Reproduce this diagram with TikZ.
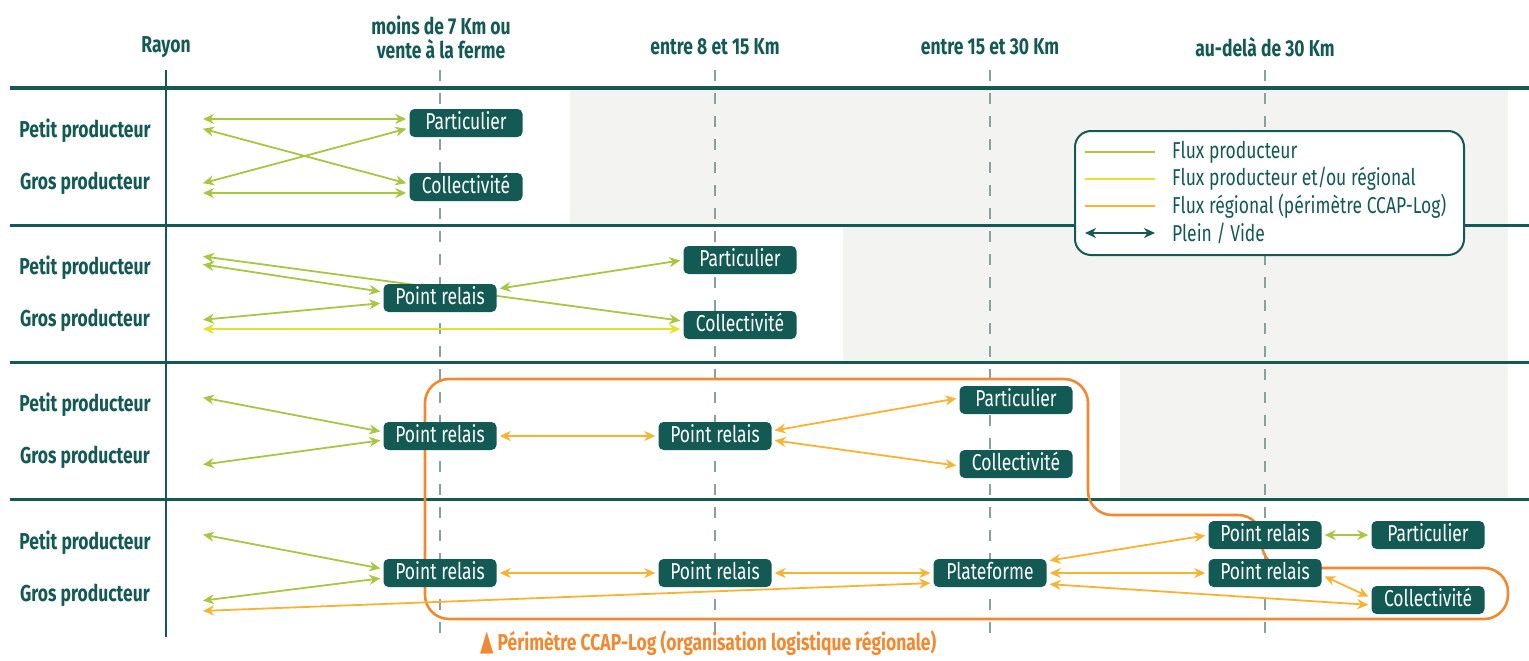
\documentclass[tikz,border=0pt]{standalone}
\usepackage{fontspec}
\setmainfont{Fira Sans}[FakeStretch=0.76]
\newfontfamily\symfont{DejaVu Sans}[FakeStretch=0.6]
\usetikzlibrary{arrows.meta}
\usetikzlibrary{calc}
\usetikzlibrary{positioning}
\definecolor{vertfonce}{RGB}{19,89,84}
\definecolor{vertflux}{RGB}{168,198,66}
\definecolor{jauneflux}{RGB}{228,226,45}
\definecolor{orangeflux}{RGB}{250,178,50}
\definecolor{orangeperim}{RGB}{242,137,48}
\definecolor{fondgris}{RGB}{243,243,241}
\definecolor{tiretgris}{RGB}{138,160,158}
\pgfdeclarelayer{fond}
\pgfdeclarelayer{liens}
\pgfsetlayers{fond,liens,main}
\tikzset{
  flux/.style={<->,>={Stealth[length=11pt,width=10pt,inset=3.5pt]},line width=1.8pt,shorten >=3pt,shorten <=3pt},
  fluxprod/.style={flux,color=vertflux},
  fluxmixte/.style={flux,color=jauneflux},
  fluxreg/.style={flux,color=orangeflux},
  lieu/.style={fill=vertfonce,text=white,rounded corners=5pt,minimum width=113pt,minimum height=28pt,
    inner xsep=4pt,inner ysep=0pt,text height=16pt,text depth=4pt,font=\fontsize{23}{26}\selectfont},
  entete/.style={text=vertfonce,align=center,font=\fontsize{23}{24}\selectfont\bfseries},
  producteur/.style={text=vertfonce,font=\fontsize{23}{26}\selectfont\bfseries},
  legtexte/.style={text=vertfonce,anchor=west,inner sep=0pt,font=\fontsize{23}{26}\selectfont},
  separation/.style={vertfonce,line width=3pt},
  rayontiret/.style={tiretgris,line width=1.5pt,dash pattern=on 11pt off 12pt},
  perimetre/.style={orangeperim,line width=2.6pt,rounded corners=24pt}
}
\begin{document}
\begin{tikzpicture}[x=1pt,y=-1pt]
    \useasboundingbox (0,0) rectangle (1529,661);
    \begin{pgfonlayer}{fond}
    % fonds gris
    \fill[fondgris] (570,88) rectangle (1508,225);
    \fill[fondgris] (843,225) rectangle (1508,362);
    \fill[fondgris] (1120,362) rectangle (1508,499);
    % grille
    \draw[separation] (10,88) -- (1529,88);
    \draw[separation] (10,225) -- (1529,225);
    \draw[separation] (10,362) -- (1529,362);
    \draw[separation] (10,499) -- (1529,499);
    \draw[vertfonce,line width=2.8pt] (166,70) -- (166,637);
    \draw[rayontiret] (440,70) -- (440,640);
    \draw[rayontiret] (715,70) -- (715,640);
    \draw[rayontiret] (990,70) -- (990,640);
    \draw[rayontiret] (1265,70) -- (1265,640);
    % perimetre CCAP-Log
    \draw[perimetre] (425,500) -- (425,379) -- (1088,379) -- (1088,515) -- (1262,515) -- (1262,568)
        -- (1508,568) -- (1508,619) -- (425,619) -- cycle;
    \end{pgfonlayer}
    % en-tetes
    \node[entete] (rayon) at (166,47) {Rayon};
    \node[entete] (r7) at (441,37) {moins de 7 Km ou\\vente à la ferme};
    \node[entete] (r15) at (715,47) {entre 8 et 15 Km};
    \node[entete] (r30) at (990,47) {entre 15 et 30 Km};
    \node[entete] (r30plus) at (1265,47) {au-delà de 30 Km};
    % producteurs
    \node[producteur] (petit1) at (85,131) {Petit producteur};
    \node[producteur] (gros1) at (85,183) {Gros producteur};
    \node[producteur] (petit2) at (85,268) {Petit producteur};
    \node[producteur] (gros2) at (85,320) {Gros producteur};
    \node[producteur] (petit3) at (85,405) {Petit producteur};
    \node[producteur] (gros3) at (85,457) {Gros producteur};
    \node[producteur] (petit4) at (85,543) {Petit producteur};
    \node[producteur] (gros4) at (85,595) {Gros producteur};
    % lieux
    \node[lieu] (part1) at (466,123) {Particulier};
    \node[lieu] (coll1) at (466,187) {Collectivité};
    \node[lieu] (relais2) at (440,298) {Point relais};
    \node[lieu] (part2) at (740,260) {Particulier};
    \node[lieu] (coll2) at (740,325) {Collectivité};
    \node[lieu] (relais3a) at (440,436) {Point relais};
    \node[lieu] (relais3b) at (715,436) {Point relais};
    \node[lieu] (part3) at (1016,400) {Particulier};
    \node[lieu] (coll3) at (1016,464) {Collectivité};
    \node[lieu] (relais4a) at (440,573) {Point relais};
    \node[lieu] (relais4b) at (715,573) {Point relais};
    \node[lieu] (plat4) at (990,573) {Plateforme};
    \node[lieu] (relais4c) at (1265,535) {Point relais};
    \node[lieu] (relais4d) at (1265,573) {Point relais};
    \node[lieu] (part4) at (1428,535) {Particulier};
    \node[lieu] (coll4) at (1428,600) {Collectivité};
    % extremites cote producteurs
    \coordinate (p1a) at (200,119);
    \coordinate (p1b) at (200,128);
    \coordinate (g1a) at (200,184);
    \coordinate (g1b) at (200,193);
    \coordinate (p2a) at (200,256);
    \coordinate (p2b) at (200,264);
    \coordinate (g2a) at (200,320);
    \coordinate (g2b) at (200,329);
    \coordinate (p3) at (200,397);
    \coordinate (g3) at (200,465);
    \coordinate (p4) at (200,534);
    \coordinate (g4a) at (200,601);
    \coordinate (g4b) at (200,611);
    \begin{pgfonlayer}{liens}
    % rang 1
    \draw[fluxprod] (p1a) -- (part1.west |- p1a);
    \draw[fluxprod] (p1b) -- ($(coll1.west)+(0,-3)$);
    \draw[fluxprod] (g1a) -- ($(part1.west)+(0,5)$);
    \draw[fluxprod] (g1b) -- (coll1.west |- g1b);
    % rang 2
    \draw[fluxprod] (p2a) -- ($(coll2.west)+(0,-4)$);
    \draw[fluxprod] (p2b) -- ($(relais2.west)+(0,-6)$);
    \draw[fluxprod] (g2a) -- ($(relais2.west)+(0,5)$);
    \draw[fluxmixte] (g2b) -- (coll2.west |- g2b);
    \draw[fluxprod] ($(relais2.east)+(0,-9)$) -- (part2.west);
    % rang 3
    \draw[fluxprod] (p3) -- ($(relais3a.west)+(0,-4)$);
    \draw[fluxprod] (g3) -- ($(relais3a.west)+(0,4)$);
    \draw[fluxreg] (relais3a) -- (relais3b);
    \draw[fluxreg] ($(relais3b.east)+(0,-5)$) -- ($(part3.west)+(0,-2)$);
    \draw[fluxreg] ($(relais3b.east)+(0,4)$) -- ($(coll3.west)+(0,2)$);
    % rang 4
    \draw[fluxprod] (p4) -- ($(relais4a.west)+(0,-4)$);
    \draw[fluxprod] (g4a) -- ($(relais4a.west)+(0,5)$);
    \draw[fluxreg] (g4b) -- ($(plat4.west)+(0,10)$);
    \draw[fluxreg] (relais4a) -- (relais4b);
    \draw[fluxreg] (relais4b) -- (plat4);
    \draw[fluxreg] ($(plat4.east)+(0,-12)$) -- (relais4c.west);
    \draw[fluxreg] (plat4) -- (relais4d);
    \draw[fluxreg] ($(plat4.east)+(0,11)$) -- ($(coll4.west)+(0,5)$);
    \draw[fluxreg] ($(relais4d.east)+(0,2)$) -- ($(coll4.west)+(0,-2)$);
    \draw[fluxprod] (relais4c) -- (part4);
    \end{pgfonlayer}
    % legende
    \draw[vertfonce,line width=2pt,rounded corners=16pt,fill=white] (1075,131) rectangle (1464,255);
    \node[legtexte] (leg1) at (1172,152) {Flux producteur};
    \node[legtexte] (leg2) at (1172,179) {Flux producteur et/ou régional};
    \node[legtexte] (leg3) at (1172,206) {Flux régional (périmètre CCAP-Log)};
    \node[legtexte] (leg4) at (1172,233) {Plein / Vide};
    \draw[vertflux,line width=1.8pt] ($(leg1.west)+(-87,0)$) -- ++(70,0);
    \draw[jauneflux,line width=1.8pt] ($(leg2.west)+(-87,0)$) -- ++(70,0);
    \draw[orangeflux,line width=1.8pt] ($(leg3.west)+(-87,0)$) -- ++(70,0);
    \draw[flux,vertfonce,shorten >=0pt,shorten <=0pt] ($(leg4.west)+(-87,0)$) -- ++(70,0);
    % note du bas
    \node[anchor=west,inner sep=0pt,text=orangeperim,font=\fontsize{23}{26}\selectfont\bfseries] (perim) at (480,643)
        {{\symfont\fontsize{29}{26}\selectfont ▲} Périmètre CCAP-Log (organisation logistique régionale)};
\end{tikzpicture}
\end{document}
